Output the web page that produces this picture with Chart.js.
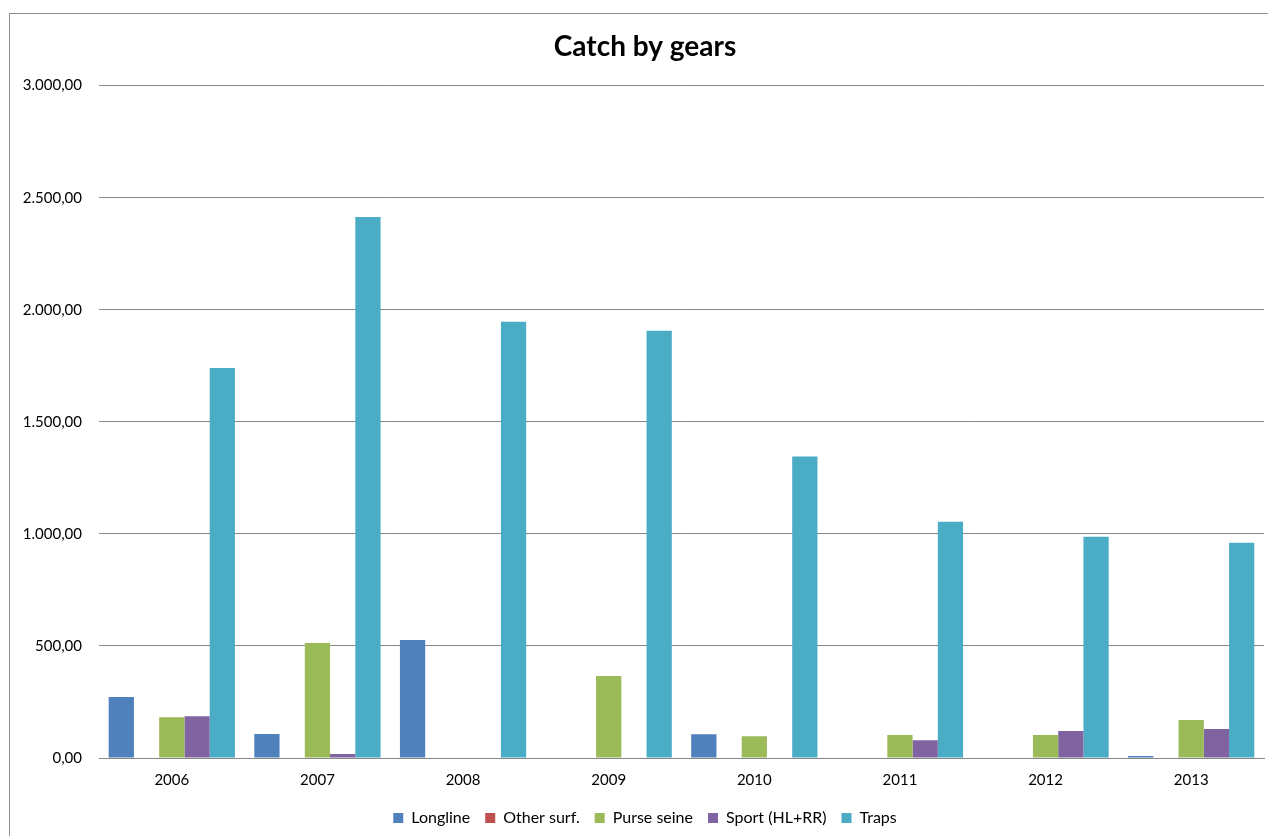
<!DOCTYPE html>
<html>
<head>
<meta charset="utf-8">
<title>Catch by gears</title>
<script src="https://cdn.jsdelivr.net/npm/chart.js@4.4.1/dist/chart.umd.min.js"></script>
<style>
  html, body { margin: 0; padding: 0; background: #fff; overflow: hidden; }
  #wrap { position: relative; width: 1268px; height: 836px; }
  #frame {
    position: absolute; left: 9px; top: 13px; width: 1300px; height: 900px;
    border: 1px solid #8e8e8e; box-sizing: border-box;
  }
  canvas { position: absolute; left: 0; top: 0; }
</style>
</head>
<body>
<div id="wrap">
  <div id="frame"></div>
  <canvas id="gearChart" width="1268" height="836"></canvas>
</div>
<script>
// Catch per year, split by gear type
const years = ["2006", "2007", "2008", "2009", "2010", "2011", "2012", "2013"];
const longline    = [272, 107, 527, 0, 106, 0, 0, 9];
const otherSurf   = [0, 0, 0, 0, 0, 0, 0, 0];
const purseSeine  = [182, 513, 0, 366, 97, 103, 103, 170];
const sport       = [186, 18, 0, 0, 0, 79, 121, 129];
const traps       = [1740, 2414, 1946, 1906, 1345, 1054, 987, 960];

const gearNames  = ["Longline", "Other surf.", "Purse seine", "Sport (HL+RR)", "Traps"];
const gearColors = ["#4F81BD", "#C0504D", "#9BBB59", "#8064A2", "#4BACC6"];
const gearData   = [longline, otherSurf, purseSeine, sport, traps];

// 3.000,00 style numbers
function formatNumber(v) {
  const parts = v.toFixed(2).split(".");
  parts[0] = parts[0].replace(/\B(?=(\d{3})+(?!\d))/g, ".");
  return parts[0] + "," + parts[1];
}

const font = "Lato, 'Open Sans', sans-serif";

new Chart(document.getElementById("gearChart"), {
  type: "bar",
  data: {
    labels: years,
    datasets: gearNames.map((name, i) => ({
      label: name,
      data: gearData[i],
      backgroundColor: gearColors[i],
      borderWidth: 0,
      barPercentage: 1.0,
      categoryPercentage: 0.867
    }))
  },
  options: {
    responsive: false,
    animation: false,
    // right edge runs past the canvas so title and legend sit centred on the frame
    layout: { padding: { left: 10, right: -12, top: 20, bottom: 0 } },
    plugins: {
      title: {
        display: true,
        text: "Catch by gears",
        color: "#000",
        font: { family: font, size: 28, weight: "bold" },
        padding: { top: 10, bottom: 22 }
      },
      legend: {
        position: "bottom",
        labels: {
          color: "#000",
          font: { family: font, size: 16 },
          boxWidth: 10,
          boxHeight: 10,
          padding: 15
        }
      },
      tooltip: { enabled: false }
    },
    scales: {
      x: {
        afterFit: scale => { scale.height -= 7; },
        grid: { display: false, drawTicks: false },
        border: { display: true, color: "#868686", width: 1 },
        ticks: { color: "#000", font: { family: font, size: 15 }, padding: 13 }
      },
      y: {
        min: 0,
        max: 3000,
        afterFit: scale => { scale.width = 89; },
        grid: { color: "#868686", drawTicks: false },
        border: { display: false },
        ticks: {
          stepSize: 500,
          color: "#000",
          font: { family: font, size: 15 },
          padding: 17,
          callback: v => formatNumber(v)
        }
      },
      // empty spacer axis on the right
      spacer: {
        position: "right",
        afterFit: scale => { scale.width = 16; },
        grid: { display: false },
        border: { display: false },
        ticks: { display: false }
      }
    }
  }
});
</script>
</body>
</html>
